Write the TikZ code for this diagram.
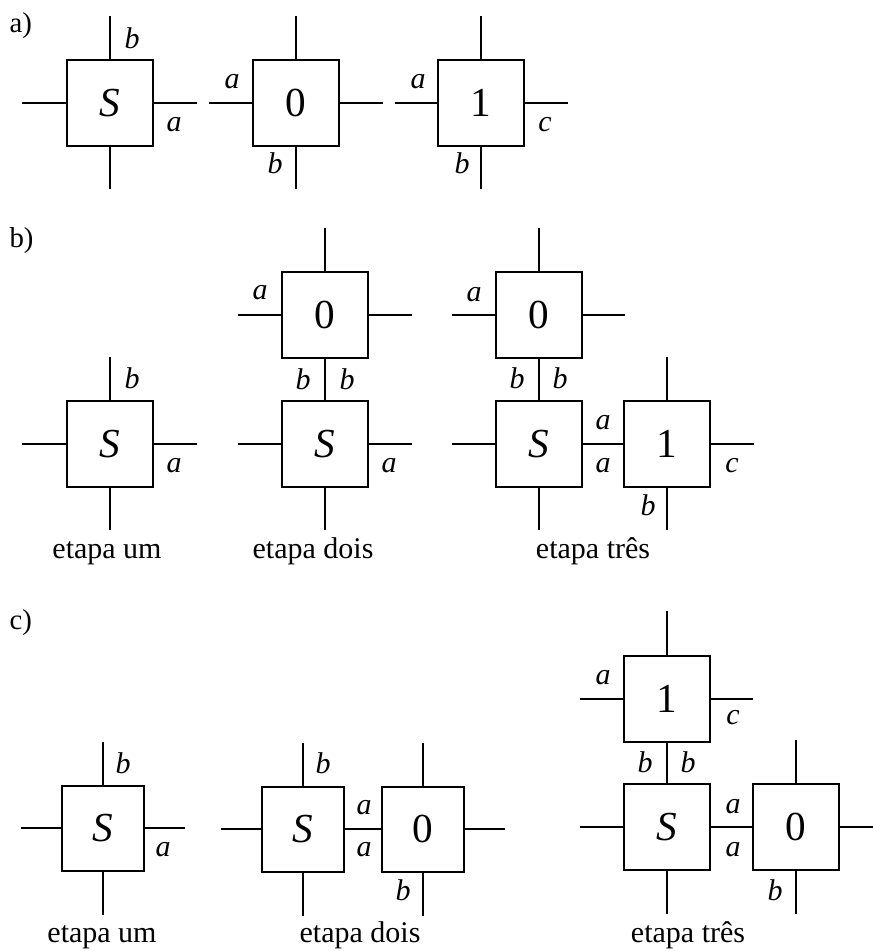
\documentclass[tikz,border=0pt]{standalone}
\usepackage{fontspec}
\setmainfont{Liberation Serif}
\begin{document}
\begin{tikzpicture}[x=0.4pt,y=-0.4pt,
  cell/.style={draw, line width=0.8pt, minimum width=34.4pt, minimum height=34.4pt,
    inner sep=0pt, font=\fontsize{16.5}{16.5}\selectfont},
  cellc/.style={cell, minimum width=32.6pt, minimum height=34pt},
  wire/.style={line width=0.8pt},
  lab/.style={inner sep=0pt, font=\fontsize{12}{12}\selectfont\itshape},
  stage/.style={inner sep=0pt, anchor=base, font=\fontsize{12}{12}\selectfont},
  part/.style={inner sep=0pt, anchor=base west, font=\fontsize{11.5}{11.5}\selectfont}]
\useasboundingbox (0,0) rectangle (873,951);

% ---------------- a) the three tiles ----------------
\node[part] (pa) at (9,33) {a)};

\node[cell] (aS) at (110,103) {\itshape S};
\draw[wire] (aS.north) -- ++(0,-43);
\draw[wire] (aS.south) -- ++(0,42);
\draw[wire] (aS.west) -- ++(-44,0);
\draw[wire] (aS.east) -- ++(43,0);
\node[lab] (aSb) at (132,38) {b};
\node[lab] (aSa) at (174,125) {a};

\node[cell] (aZ) at (296,103) {0};
\draw[wire] (aZ.north) -- ++(0,-43);
\draw[wire] (aZ.south) -- ++(0,42);
\draw[wire] (aZ.west) -- ++(-43,0);
\draw[wire] (aZ.east) -- ++(43,0);
\node[lab] (aZa) at (232,82) {a};
\node[lab] (aZb) at (275,163) {b};

\node[cell] (aO) at (481,103) {1};
\draw[wire] (aO.north) -- ++(0,-43);
\draw[wire] (aO.south) -- ++(0,42);
\draw[wire] (aO.west) -- ++(-42,0);
\draw[wire] (aO.east) -- ++(43,0);
\node[lab] (aOa) at (418,82) {a};
\node[lab] (aOc) at (545,125) {c};
\node[lab] (aOb) at (462,163) {b};

% ---------------- b) tiling, tile 0 placed first ----------------
\node[part] (pb) at (9,248) {b)};

% step one
\node[cell] (bS1) at (110,444) {\itshape S};
\draw[wire] (bS1.north) -- ++(0,-43);
\draw[wire] (bS1.south) -- ++(0,42);
\draw[wire] (bS1.west) -- ++(-44,0);
\draw[wire] (bS1.east) -- ++(43,0);
\node[lab] (bS1b) at (132,378) {b};
\node[lab] (bS1a) at (174,466) {a};
\node[stage] (bt1) at (107,558) {etapa um};

% step two
\node[cell] (bZ2) at (325,315) {0};
\node[cell] (bS2) at (325,444) {\itshape S};
\draw[wire] (bZ2.south) -- (bS2.north);
\draw[wire] (bZ2.north) -- ++(0,-43);
\draw[wire] (bZ2.west) -- ++(-43,0);
\draw[wire] (bZ2.east) -- ++(43,0);
\draw[wire] (bS2.west) -- ++(-43,0);
\draw[wire] (bS2.east) -- ++(43,0);
\draw[wire] (bS2.south) -- ++(0,42);
\node[lab] (bZ2a) at (260,293) {a};
\node[lab] (bZ2b) at (303,379) {b};
\node[lab] (bS2b) at (347,379) {b};
\node[lab] (bS2a) at (389,466) {a};
\node[stage] (bt2) at (313,558) {etapa dois};

% step three
\node[cell] (bZ3) at (539,315) {0};
\node[cell] (bS3) at (539,444) {\itshape S};
\node[cell] (bO3) at (667,444) {1};
\draw[wire] (bZ3.south) -- (bS3.north);
\draw[wire] (bS3.east) -- (bO3.west);
\draw[wire] (bZ3.north) -- ++(0,-43);
\draw[wire] (bZ3.west) -- ++(-43,0);
\draw[wire] (bZ3.east) -- ++(42,0);
\draw[wire] (bS3.west) -- ++(-43,0);
\draw[wire] (bS3.south) -- ++(0,42);
\draw[wire] (bO3.north) -- ++(0,-43);
\draw[wire] (bO3.east) -- ++(43,0);
\draw[wire] (bO3.south) -- ++(0,42);
\node[lab] (bZ3a) at (474,295) {a};
\node[lab] (bZ3b) at (517,378) {b};
\node[lab] (bS3b) at (560,378) {b};
\node[lab] (bS3a) at (603,423) {a};
\node[lab] (bO3a) at (603,466) {a};
\node[lab] (bO3c) at (732,466) {c};
\node[lab] (bO3b) at (648,505) {b};
\node[stage] (bt3) at (593,558) {etapa três};

% ---------------- c) tiling, tile 0 placed first on the right ----------------
\node[part] (pc) at (9,629) {c)};

% step one
\node[cellc] (cS1) at (103,828) {\itshape S};
\draw[wire] (cS1.north) -- ++(0,-43);
\draw[wire] (cS1.south) -- ++(0,43);
\draw[wire] (cS1.west) -- ++(-40,0);
\draw[wire] (cS1.east) -- ++(40,0);
\node[lab] (cS1b) at (123,763) {b};
\node[lab] (cS1a) at (163,850) {a};
\node[stage] (ct1) at (102,942) {etapa um};

% step two
\node[cellc] (cS2) at (303,829) {\itshape S};
\node[cellc] (cZ2) at (423,829) {0};
\draw[wire] (cS2.east) -- (cZ2.west);
\draw[wire] (cS2.north) -- ++(0,-43);
\draw[wire] (cS2.south) -- ++(0,43);
\draw[wire] (cS2.west) -- ++(-40,0);
\draw[wire] (cZ2.north) -- ++(0,-43);
\draw[wire] (cZ2.east) -- ++(40,0);
\draw[wire] (cZ2.south) -- ++(0,43);
\node[lab] (cS2b) at (323,763) {b};
\node[lab] (cS2a) at (364,808) {a};
\node[lab] (cZ2a) at (364,850) {a};
\node[lab] (cZ2b) at (403,890) {b};
\node[stage] (ct2) at (360,942) {etapa dois};

% step three
\node[cell] (cO3) at (667,699) {1};
\node[cell] (cS3) at (667,827) {\itshape S};
\node[cell] (cZ3) at (796,827) {0};
\draw[wire] (cO3.south) -- (cS3.north);
\draw[wire] (cS3.east) -- (cZ3.west);
\draw[wire] (cO3.north) -- ++(0,-44);
\draw[wire] (cO3.west) -- ++(-43,0);
\draw[wire] (cO3.east) -- ++(42,0);
\draw[wire] (cS3.west) -- ++(-43,0);
\draw[wire] (cS3.south) -- ++(0,43);
\draw[wire] (cZ3.north) -- ++(0,-43);
\draw[wire] (cZ3.east) -- ++(33,0);
\draw[wire] (cZ3.south) -- ++(0,43);
\node[lab] (cO3a) at (603,678) {a};
\node[lab] (cO3c) at (733,718) {c};
\node[lab] (cO3b) at (645,762) {b};
\node[lab] (cS3b) at (688,762) {b};
\node[lab] (cS3a) at (733,807) {a};
\node[lab] (cZ3a) at (733,850) {a};
\node[lab] (cZ3b) at (775,890) {b};
\node[stage] (ct3) at (688,942) {etapa três};
\end{tikzpicture}
\end{document}
